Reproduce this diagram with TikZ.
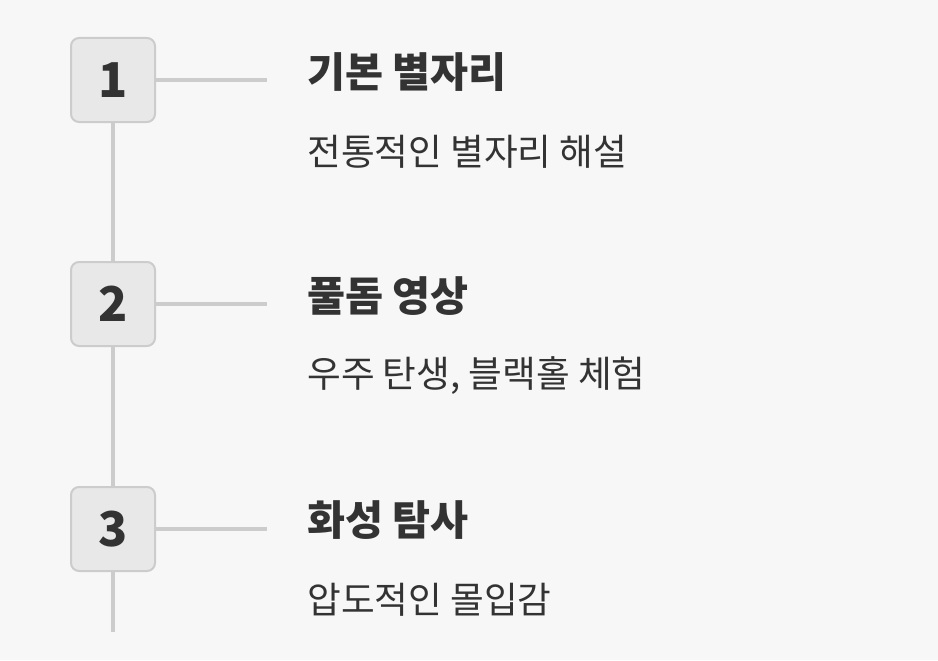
\documentclass[tikz,border=0pt]{standalone}
\usepackage{fontspec}
\setmainfont{Noto Sans CJK KR}
\definecolor{bgcol}{HTML}{F7F7F7}
\definecolor{boxcol}{HTML}{E8E8E8}
\definecolor{linecol}{HTML}{CCCCCC}
\definecolor{txtcol}{HTML}{333333}
\tikzset{
  numbox/.style={draw=linecol, line width=1.5pt, fill=boxcol, rounded corners=6pt,
    minimum width=63pt, minimum height=63pt, inner sep=0pt, text=txtcol,
    font=\fontsize{36}{36}\selectfont\bfseries},
  conn/.style={linecol, line width=2.5pt},
  ttl/.style={anchor=west, inner sep=0pt, text=txtcol, font=\fontsize{31}{31}\selectfont\bfseries},
  sub/.style={anchor=west, inner sep=0pt, text=txtcol, font=\fontsize{27.5}{27.5}\selectfont}
}
\begin{document}
\begin{tikzpicture}[x=0.75pt,y=-0.75pt]

	\fill[bgcol] (0,0) rectangle (938,660);

	\node[numbox] (b1) at (113, 80) {1};
	\node[numbox] (b2) at (113,304) {2};
	\node[numbox] (b3) at (113,529) {3};
	\coordinate (end) at (114,632);

	\coordinate (h1) at (267, 80);
	\coordinate (h2) at (267,304);
	\coordinate (h3) at (267,529);

	\node[ttl] (t1) at (307, 72) {기본 별자리};
	\node[sub] (s1) at (307,152) {전통적인 별자리 해설};
	\node[ttl] (t2) at (307,296) {풀돔 영상};
	\node[sub] (s2) at (307,376) {우주 탄생, 블랙홀 체험};
	\node[ttl] (t3) at (307,520) {화성 탐사};
	\node[sub] (s3) at (307,600) {압도적인 몰입감};

	\draw[conn] (b1.south) -- (b2.north);
	\draw[conn] (b2.south) -- (b3.north);
	\draw[conn] (b3.south) -- (b3.south |- end);
	\draw[conn] (b1.east) -- (h1);
	\draw[conn] (b2.east) -- (h2);
	\draw[conn] (b3.east) -- (h3);

\end{tikzpicture}
\end{document}
